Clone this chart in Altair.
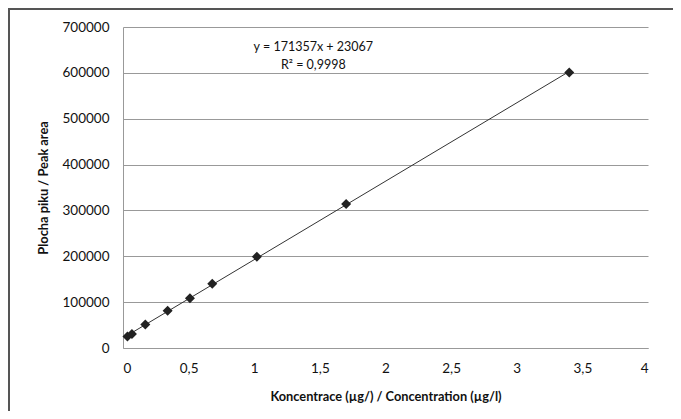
import altair as alt
import pandas as pd

conc = [0.034, 0.068, 0.17, 0.34, 0.51, 0.68, 1.02, 1.7, 3.4]
area = [25000, 30500, 51000, 81000, 108500, 140000, 199000, 314000, 601000]

eq_x = [1.45, 1.45]
eq_y = [656000, 618000]
eq_text = ["y = 171357x + 23067", "R² = 0,9998"]

df = pd.DataFrame({"x": conc, "y": area})
tdf = pd.DataFrame({"x": eq_x, "y": eq_y, "t": eq_text})

FONT = "Lato"

xscale = alt.Scale(domain=[0, 4], nice=False, zero=True)
yscale = alt.Scale(domain=[0, 700000], nice=False)

xaxis = alt.Axis(
    title="Koncentrace (µg/) / Concentration (µg/l)",
    values=[0, 0.5, 1, 1.5, 2, 2.5, 3, 3.5, 4],
    labelExpr="replace(format(datum.value, ''), '.', ',')",
    grid=False, ticks=False, domainColor="#999999",
    labelPadding=13, titlePadding=16,
)
yaxis = alt.Axis(
    title="Plocha piku / Peak area",
    values=[0, 100000, 200000, 300000, 400000, 500000, 600000, 700000],
    format="d", grid=True, gridColor="#999999", ticks=False,
    domainColor="#999999", labelPadding=14, titlePadding=12,
)

one = pd.DataFrame({"a": [0]})
frame_top = alt.Chart(one).mark_rule(stroke="#555555", strokeWidth=2).encode(
    x=alt.value(-114), x2=alt.value(700), y=alt.value(-18)
)
frame_left = alt.Chart(one).mark_rule(stroke="#555555", strokeWidth=2).encode(
    x=alt.value(-114), y=alt.value(-19), y2=alt.value(500)
)

points = alt.Chart(df).mark_point(
    shape="diamond", filled=True, color="#222222", size=100, opacity=1
).encode(
    x=alt.X("x:Q", scale=xscale, axis=xaxis),
    y=alt.Y("y:Q", scale=yscale, axis=yaxis),
)

trend = alt.Chart(df).transform_regression("x", "y").mark_line(
    color="#333333", strokeWidth=1
).encode(
    x=alt.X("x:Q", scale=xscale),
    y=alt.Y("y:Q", scale=yscale),
)

eq = alt.Chart(tdf).mark_text(
    font=FONT, fontSize=12.5, color="#111111", align="center", baseline="middle"
).encode(
    x=alt.X("x:Q", scale=xscale),
    y=alt.Y("y:Q", scale=yscale),
    text="t:N",
)

chart = alt.layer(frame_top, frame_left, trend, points, eq).properties(
    width=525, height=321,
    autosize=alt.AutoSizeParams(type="none"),
    padding={"left": 115, "top": 19, "right": 25, "bottom": 63},
).configure_view(stroke=None).configure_axis(
    labelFont=FONT, titleFont=FONT, labelFontSize=13.5, titleFontSize=12.8,
    labelColor="#111111", titleColor="#111111", titleFontWeight="bold",
)

chart.save("out.html", embed_options={"renderer": "svg", "actions": False})
